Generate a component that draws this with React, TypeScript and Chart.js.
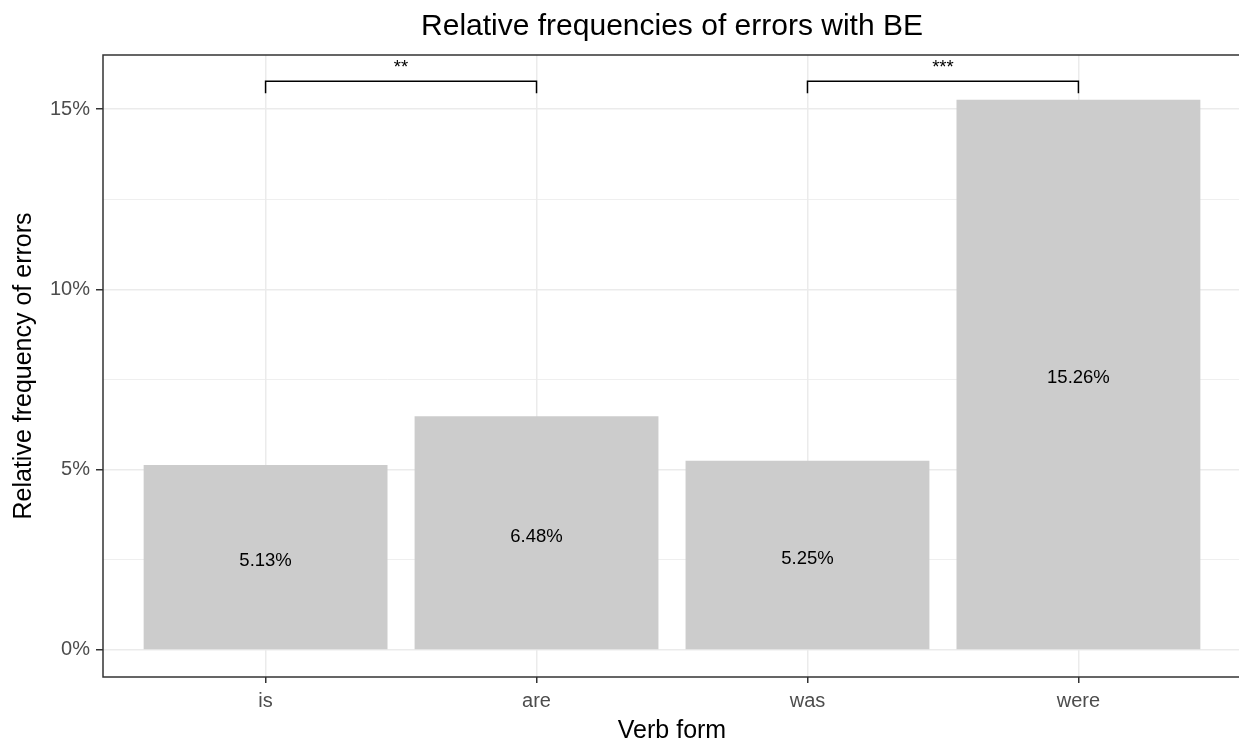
import React, { useEffect, useRef } from 'react';
import { Chart, registerables } from 'chart.js';

Chart.register(...registerables);

const categories = ['is', 'are', 'was', 'were'];
const relFreq = [5.13, 6.48, 5.25, 15.26];
const valueLabels = ['5.13%', '6.48%', '5.25%', '15.26%'];
const yTickValues = [0, 2.5, 5, 7.5, 10, 12.5, 15];
const signifFrom = [1, 3];
const signifTo = [2, 4];
const signifLabels = ['**', '***'];
const signifY = [15.77, 15.77];
const signifTipY = [15.44, 15.44];
const signifLabelY = [16.0, 16.0];

const FONT = '"Liberation Sans", Arial, sans-serif';

const overlayPlugin = {
  id: 'overlay',
  afterDatasetsDraw(chart: any) {
    const { ctx, chartArea, scales } = chart;
    const x = scales.x;
    const y = scales.y;
    ctx.save();
    // bar value labels (vertically centred like ggplot's vjust = 0.5)
    ctx.font = `18.5px ${FONT}`;
    ctx.fillStyle = '#000000';
    ctx.textAlign = 'center';
    ctx.textBaseline = 'middle';
    relFreq.forEach((v, i) => {
      ctx.fillText(valueLabels[i], x.getPixelForValue(i + 1), y.getPixelForValue(v / 2) + 3.5);
    });
    // significance brackets
    ctx.strokeStyle = '#000000';
    ctx.lineWidth = 1.5;
    signifFrom.forEach((from, i) => {
      const x1 = x.getPixelForValue(from);
      const x2 = x.getPixelForValue(signifTo[i]);
      const yb = y.getPixelForValue(signifY[i]);
      const yt = y.getPixelForValue(signifTipY[i]);
      ctx.beginPath();
      ctx.moveTo(x1, yt);
      ctx.lineTo(x1, yb);
      ctx.lineTo(x2, yb);
      ctx.lineTo(x2, yt);
      ctx.stroke();
      ctx.textBaseline = 'alphabetic';
      ctx.fillText(signifLabels[i], (x1 + x2) / 2, y.getPixelForValue(signifLabelY[i]));
    });
    // panel border
    ctx.strokeStyle = '#333333';
    ctx.lineWidth = 1.5;
    ctx.strokeRect(chartArea.left, chartArea.top, chartArea.right - chartArea.left, chartArea.bottom - chartArea.top);
    ctx.restore();
  },
};

export default function App() {
  const canvasRef = useRef<HTMLCanvasElement | null>(null);

  useEffect(() => {
    document.body.style.margin = '0';
    const canvas = canvasRef.current;
    if (!canvas) return;
    const chart = new Chart(canvas, {
      type: 'bar',
      data: {
        datasets: [
          {
            data: relFreq.map((v, i) => ({ x: i + 1, y: v })),
            backgroundColor: '#cccccc',
            borderWidth: 0,
            barPercentage: 0.9,
            categoryPercentage: 1,
          },
        ],
      },
      options: {
        responsive: false,
        animation: false,
        devicePixelRatio: 1,
        layout: { padding: 0 },
        plugins: {
          legend: { display: false },
          tooltip: { enabled: false },
          title: {
            display: true,
            text: 'Relative frequencies of errors with BE',
            color: '#000000',
            fullSize: false,
            font: { family: FONT, size: 30, weight: 'normal', lineHeight: 1.2 },
            padding: { top: 9, bottom: 10 },
          },
        },
        scales: {
          x: {
            type: 'linear',
            min: 0.4,
            max: 4.6,
            offset: false,
            afterBuildTicks: (s: any) => {
              s.ticks = categories.map((_, i) => ({ value: i + 1 }));
            },
            afterFit: (s: any) => {
              s.height = 65;
            },
            grid: {
              offset: false,
              color: '#ebebeb',
              lineWidth: 1.5,
              tickColor: '#333333',
              tickLength: 6,
              tickWidth: 1.5,
            },
            border: { display: false },
            ticks: {
              callback: (v: any) => categories[Math.round(Number(v)) - 1] ?? '',
              color: '#4d4d4d',
              font: { family: FONT, size: 20 },
              padding: 6,
              maxRotation: 0,
              autoSkip: false,
            },
            title: {
              display: true,
              text: 'Verb form',
              color: '#000000',
              font: { family: FONT, size: 25, lineHeight: 0.8 },
              padding: { top: 0, bottom: 1 },
            },
          },
          y: {
            type: 'linear',
            min: -0.75,
            max: 16.5,
            afterBuildTicks: (s: any) => {
              s.ticks = yTickValues.map((v) => ({ value: v }));
            },
            afterFit: (s: any) => {
              s.width = 103;
            },
            grid: {
              color: '#ebebeb',
              lineWidth: (c: any) => (c.tick && c.tick.value % 5 === 0 ? 1.5 : 0.8),
              tickColor: (c: any) => (c.tick && c.tick.value % 5 === 0 ? '#333333' : 'rgba(0,0,0,0)'),
              tickLength: 7,
              tickWidth: 1.5,
            },
            border: { display: false },
            ticks: {
              callback: (v: any) => (Number(v) % 5 === 0 ? `${v}%` : ''),
              color: '#4d4d4d',
              font: { family: FONT, size: 20 },
              padding: 6,
              autoSkip: false,
            },
            title: {
              display: true,
              text: 'Relative frequency of errors',
              color: '#000000',
              font: { family: FONT, size: 25, lineHeight: 1 },
              padding: { top: 11.5, bottom: 0 },
            },
          },
        },
      } as any,
      plugins: [overlayPlugin],
    });
    return () => chart.destroy();
  }, []);

  return (
    <div style={{ position: 'fixed', left: 0, top: 0, width: 1239, height: 742, overflow: 'hidden', background: '#ffffff' }}>
      <canvas ref={canvasRef} width={1241} height={742} style={{ display: 'block', width: 1241, height: 742 }} />
    </div>
  );
}
